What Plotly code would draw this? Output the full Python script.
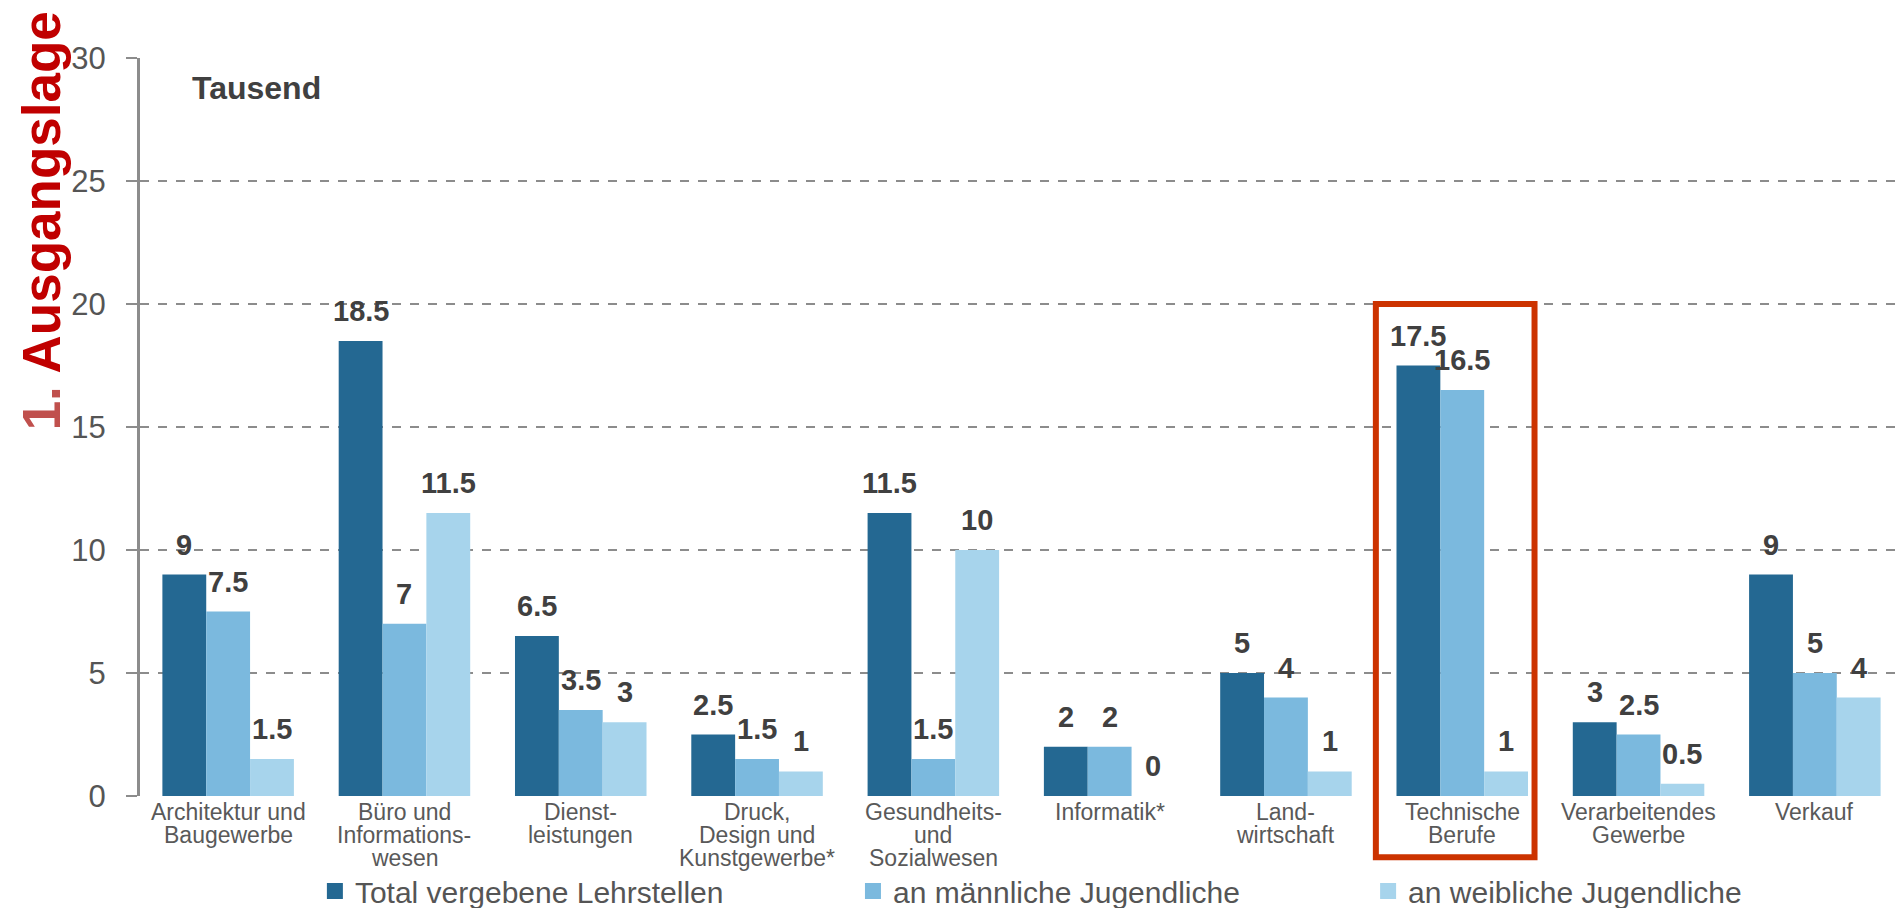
import plotly.graph_objects as go

categories = [
    "Architektur und<br>Baugewerbe",
    "Büro und<br>Informations-<br>wesen",
    "Dienst-<br>leistungen",
    "Druck,<br>Design und<br>Kunstgewerbe*",
    "Gesundheits-<br>und<br>Sozialwesen",
    "Informatik*",
    "Land-<br>wirtschaft",
    "Technische<br>Berufe",
    "Verarbeitendes<br>Gewerbe",
    "Verkauf",
]
total_values = [9, 18.5, 6.5, 2.5, 11.5, 2, 5, 17.5, 3, 9]
male_values = [7.5, 7, 3.5, 1.5, 1.5, 2, 4, 16.5, 2.5, 5]
female_values = [1.5, 11.5, 3, 1, 10, 0, 1, 1, 0.5, 4]
series_names = ["Total vergebene Lehrstellen", "an männliche Jugendliche", "an weibliche Jugendliche"]
series_colors = ["#246892", "#7BB9DE", "#A7D4EC"]
y_ticks = [0, 5, 10, 15, 20, 25, 30]
highlight_category = 7

FONT = "Liberation Sans, Arial, Helvetica, sans-serif"
BARGAP = 0.254
legend_ids = ["legend", "legend2", "legend3"]
legend_x = [0.0992, 0.4044, 0.6966]

fig = go.Figure()
all_series = [total_values, male_values, female_values]
for name, vals, col, lid in zip(series_names, all_series, series_colors, legend_ids):
    fig.add_trace(go.Bar(
        x=categories, y=vals, name=name, marker=dict(color=col, line=dict(width=0)),
        showlegend=False, hoverinfo="y",
    ))
    # legend proxy with larger square symbol
    fig.add_trace(go.Scatter(
        x=[None], y=[None], mode="markers", name=name,
        marker=dict(symbol="square", size=16, color=col),
        showlegend=True, legend=lid,
    ))

# value labels above bars
bar_w = (1 - BARGAP) / 3
for k, vals in enumerate(all_series):
    for i, v in enumerate(vals):
        fig.add_annotation(
            x=i + (k - 1) * bar_w, y=v, xref="x", yref="y",
            text=f"{v:g}", showarrow=False, yanchor="bottom", xanchor="center",
            yshift=12,
            font=dict(family=FONT, size=29, color="#404040", weight="bold"),
        )

# category labels (one text per line for tighter line spacing)
for i, cat in enumerate(categories):
    for j, line in enumerate(cat.split("<br>")):
        fig.add_annotation(
            x=i, y=0, xref="x", yref="y", text=line, showarrow=False,
            xanchor="center", yanchor="middle", yshift=-(16 + 23 * j),
            font=dict(family=FONT, size=23, color="#595959"),
        )

fig.add_annotation(
    xref="paper", yref="paper", x=0.0284, y=0.959, xanchor="left", yanchor="middle",
    text="<b>Tausend</b>", showarrow=False,
    font=dict(family=FONT, size=32, color="#404040"),
)
fig.add_annotation(
    xref="paper", yref="paper", x=-0.056, y=0.779, xanchor="center", yanchor="middle",
    text="<b><span style='color:#C0504D'>1.</span> Ausgangslage</b>", showarrow=False,
    textangle=-90,
    font=dict(family=FONT, size=53, color="#C00000"),
)

# highlight box around "Technische Berufe"
fig.add_shape(
    type="rect", xref="x", yref="y domain",
    x0=highlight_category - 0.49, x1=highlight_category + 0.41,
    y0=-0.083, y1=20 / 30,
    line=dict(color="#CC3300", width=6), fillcolor="rgba(0,0,0,0)", layer="above",
)

legend_common = dict(
    orientation="h", xanchor="left", y=-0.1287, yanchor="middle",
    font=dict(family=FONT, size=30, color="#555555"),
    bgcolor="rgba(0,0,0,0)", itemclick=False, itemdoubleclick=False,
)

fig.update_layout(
    width=1903, height=908,
    margin=dict(l=140, r=0, t=58, b=112, autoexpand=False),
    paper_bgcolor="white", plot_bgcolor="white",
    barmode="group", bargap=BARGAP, bargroupgap=0,
    font=dict(family=FONT, color="#555555"),
    showlegend=True,
    legend=dict(x=legend_x[0], **legend_common),
    legend2=dict(x=legend_x[1], **legend_common),
    legend3=dict(x=legend_x[2], **legend_common),
)
fig.update_xaxes(
    type="category", range=[-0.5, 9.5], showgrid=False, showline=False, zeroline=False,
    ticks="", showticklabels=False,
)
fig.update_yaxes(
    range=[0, 30], tickvals=y_ticks, showgrid=True, gridcolor="#8C8C8C", gridwidth=1.5,
    griddash="dash", zeroline=False, showline=True, linecolor="#8C8C8C", linewidth=3,
    ticks="outside", ticklen=11, tickcolor="#8C8C8C", tickwidth=1.5,
    ticklabelstandoff=14,
    tickfont=dict(family=FONT, size=31, color="#555555"),
)

fig.write_html("out.html")
